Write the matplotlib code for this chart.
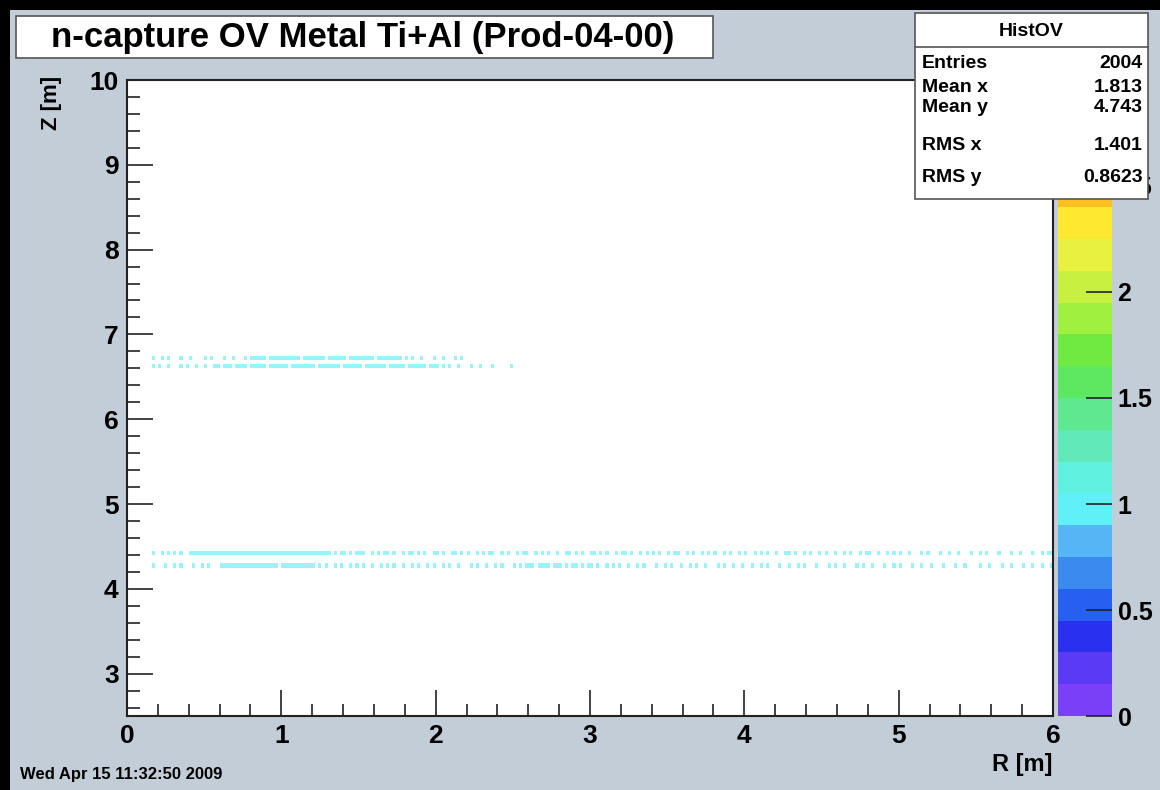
import numpy as np
import matplotlib.pyplot as plt
from matplotlib.colors import ListedColormap, BoundaryNorm
from matplotlib.patches import Rectangle
from matplotlib.ticker import MultipleLocator
from matplotlib.lines import Line2D

plt.rcParams['font.family'] = ['Liberation Sans', 'DejaVu Sans']
plt.rcParams['font.weight'] = 'bold'

# histogram binning (R: 0.02 m, Z: 0.05 m)
r_edges = np.linspace(0, 6, 301)
z_edges = np.linspace(2.5, 10, 151)

# filled rows: Z of the row and the bin contents along R
# (50 characters per metre, '.' = empty bin)
row_z = [6.725, 6.625, 4.425, 4.275]
row_cells = [
    ["........1..1.1...1..1....1.1...1..1...1.11111.1111",
     "111111.1111111.111111.11111111.11111111.1.1..1...1",
     "..1...1.1"],
    ["........1.1..1...1.1..1..1..11.111.1111.11111.1111",
     "11.11111111.1111111.111111.1111111.11111.111111.11",
     "1.1.1..1...1..1...1.....1"],
    ["........1..1.1.1.1..1111111111111111111111111111111",
     "1111111111111111.1.11.1.111..1.1.11.1..1.11.1.1..11",
     "1.1..11.1.1..1.1.11..1.1..1.11..1.1.1..1..11.1.1..1",
     "11.1.1..1.11.1..1.1.1.1..1.11..1.1..1.1.1..1.1..1.",
     "1..1.1.1..1..11.1..1.1..1.1..1..1.1..1.11..1..1.1.",
     "1..1...1.1...1..1..1...1..1.1...1...1..1...1..1.11"],
    ["........1...1..1.1...1..1.1...1111111111111111111",
     "11111111111.1.1..1.1..1.1.1..1..1.1.1..1..1.1..1.1",
     "..1.1..1...1.1..1..1.1...1.1.111.1111.111.1.11.1.1",
     "1.1..1.1.1..1..1.1...1..1.1..1..1.1..1...1.1..1..1",
     "..1..1.1...1..1..1.1...1...1.1..1...1.1..1...1..1.",
     "1...1..1..1...1...1..1....1..1...1..1...1..1..1..1"],
]

stats_names = ['Entries', 'Mean x', 'Mean y', 'RMS x', 'RMS y']
stats_values = ['2004', '1.813', '4.743', '1.401', '0.8623']

z_levels = np.linspace(0, 3, 21)
palette = ['#7a40f8', '#5a3af5', '#2a30f0', '#2560f0', '#3a8af0',
           '#55b5f5', '#60f0f8', '#60f0e0', '#60e8b8', '#60e890',
           '#5ce860', '#70ea40', '#a0f040', '#c8f040', '#e8f040',
           '#ffe830', '#ffc020', '#ff9020', '#ff5020', '#ff2010']
cbar_ticks = [0, 0.5, 1, 1.5, 2, 2.5]
cbar_labels = ['0', '0.5', '1', '1.5', '2', '2.5']

# fill the 2D histogram
H = np.zeros((len(z_edges) - 1, len(r_edges) - 1))
for z, chunks in zip(row_z, row_cells):
    iz = np.searchsorted(z_edges, z) - 1
    line = ''.join(c.ljust(50, '.')[:50] for c in chunks).ljust(300, '.')
    for ir, ch in enumerate(line):
        if ch != '.':
            H[iz, ir] = int(ch)
H = np.ma.masked_equal(H, 0)

W, Hpx = 1160, 790
fig = plt.figure(figsize=(W / 100, Hpx / 100), dpi=100)
fig.patch.set_facecolor('#c3cdd7')

def fx(x):
    return x / W

def fy(y):
    return 1 - y / Hpx

top, bottom = 80, 716
ax = fig.add_axes([fx(127), fy(bottom), fx(1053) - fx(127), fy(top) - fy(bottom)])
cmap = ListedColormap(palette)
norm = BoundaryNorm(z_levels, cmap.N)
ax.pcolormesh(r_edges, z_edges, H, cmap=cmap, norm=norm, alpha=0.65)
ax.set_xlim(0, 6)
ax.set_ylim(2.5, 10)
ax.set_xticks(range(0, 7))
ax.set_yticks(range(3, 11))
ax.xaxis.set_minor_locator(MultipleLocator(0.2))
ax.yaxis.set_minor_locator(MultipleLocator(0.2))
ax.tick_params(which='major', direction='in', length=19, width=1.2,
               labelsize=19, pad=6, color='#222222')
ax.tick_params(which='minor', direction='in', length=9, width=1.2, color='#222222')
for s in ax.spines.values():
    s.set_linewidth(1.5)
    s.set_color('#222222')

# colour palette axis
cax = fig.add_axes([fx(1058), fy(bottom), fx(1112) - fx(1058), fy(top) - fy(bottom)])
sm = plt.cm.ScalarMappable(norm=norm, cmap=cmap)
cb = fig.colorbar(sm, cax=cax, ticks=cbar_ticks)
cb.set_ticklabels(cbar_labels)
cb.outline.set_visible(False)
cax.tick_params(direction='in', length=19, width=1.2, labelsize=18, pad=4,
                color='#222222')
cax.minorticks_off()

# axis titles
fig.text(fx(52), fy(top - 4), 'Z [m]', rotation=90, ha='center', va='top', fontsize=16)
fig.text(fx(1053), fy(765), 'R [m]', ha='right', va='center', fontsize=17)
fig.text(fx(20), fy(775), 'Wed Apr 15 11:32:50 2009', ha='left', va='center', fontsize=12)

# title box
fig.patches.append(Rectangle((fx(16), fy(58)), fx(713) - fx(16), fy(16) - fy(58),
                             transform=fig.transFigure, fc='white', ec='#555555', lw=1.2))
fig.text(fx(363), fy(37), 'n-capture OV Metal Ti+Al (Prod-04-00)',
         ha='center', va='center', fontsize=25)

# stats box
fig.patches.append(Rectangle((fx(915), fy(199)), fx(1148) - fx(915), fy(13) - fy(199),
                             transform=fig.transFigure, fc='white', ec='#555555',
                             lw=1.2, zorder=5))
fig.lines.append(Line2D([fx(915), fx(1148)], [fy(47), fy(47)], transform=fig.transFigure,
                        color='#555555', lw=1.2, zorder=6))
fig.text(fx(1031), fy(31), 'HistOV', ha='center', va='center', fontsize=14, zorder=6)
stat_y = [63, 88, 108, 146, 177]
for name, val, y in zip(stats_names, stats_values, stat_y):
    fig.text(fx(922), fy(y), name, ha='left', va='center', fontsize=14, zorder=6)
    fig.text(fx(1143), fy(y), val, ha='right', va='center', fontsize=14, zorder=6)

# dark border of the screenshot
fig.patches.append(Rectangle((0, 0), fx(10), 1, transform=fig.transFigure,
                             fc='black', ec='none', zorder=10))
fig.patches.append(Rectangle((0, fy(10)), 1, fy(0) - fy(10), transform=fig.transFigure,
                             fc='black', ec='none', zorder=10))

fig.savefig('out.png', dpi=100, facecolor=fig.get_facecolor())
